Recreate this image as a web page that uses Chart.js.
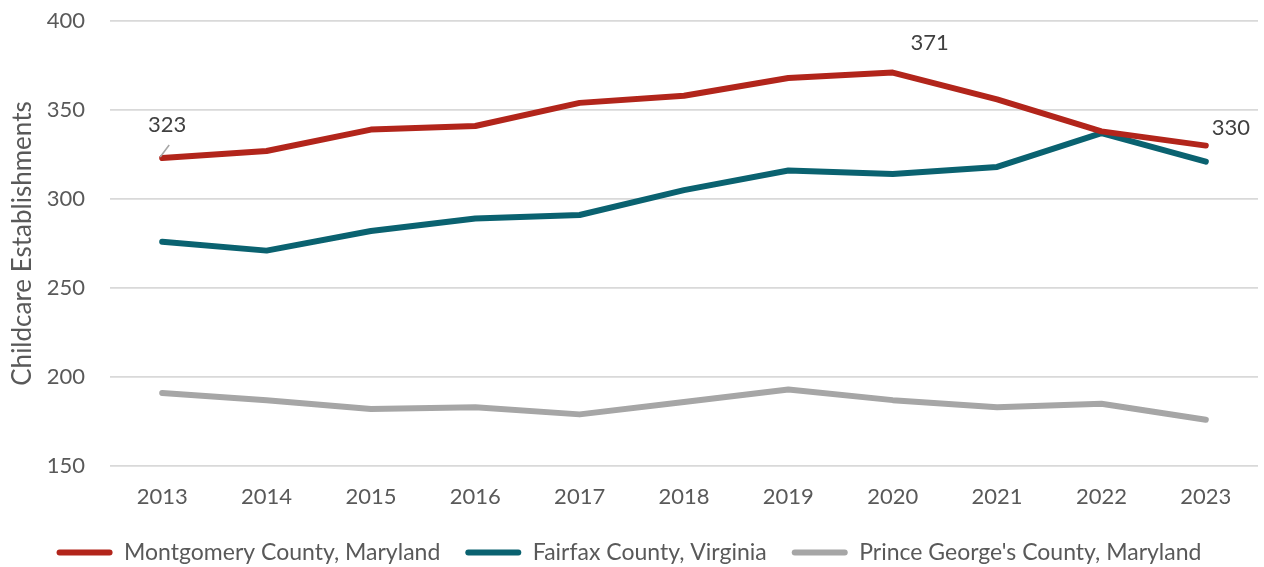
<!DOCTYPE html>
<html lang="en">
<head>
    <meta charset="UTF-8">
    <title>Childcare Establishments</title>
    <script src="https://cdn.jsdelivr.net/npm/chart.js"></script>
    <style>
        html, body {
            margin: 0;
            padding: 0;
            background: #ffffff;
        }

        .wrap {
            width: 1264px;
            height: 567px;
        }
    </style>
</head>
<body>
    <div class="wrap">
        <canvas id="chart" width="1264" height="567"></canvas>
    </div>

    <script>
        // Data
        const years = ['2013', '2014', '2015', '2016', '2017', '2018', '2019', '2020', '2021', '2022', '2023'];
        const montgomery = [323, 327, 339, 341, 354, 358, 368, 371, 356, 338, 330];
        const fairfax = [276, 271, 282, 289, 291, 305, 316, 314, 318, 337, 321];
        const princeGeorges = [191, 187, 182, 183, 179, 186, 193, 187, 183, 185, 176];
        const yTicks = [150, 200, 250, 300, 350, 400];

        const textColor = '#595959';
        const fontFamily = 'Lato, "Open Sans", sans-serif';

        // Value labels shown on the red line (index -> offsets)
        const redLabels = [
            { index: 0, dx: 5, dy: -33, leader: true },
            { index: 7, dx: 37, dy: -30, leader: false },
            { index: 10, dx: 25, dy: -18, leader: false }
        ];

        const valueLabels = {
            id: 'valueLabels',
            afterDatasetsDraw(chart) {
                const ctx = chart.ctx;
                const meta = chart.getDatasetMeta(0);
                ctx.save();
                ctx.font = '22px ' + fontFamily;
                ctx.fillStyle = '#404040';
                ctx.textAlign = 'center';
                ctx.textBaseline = 'middle';
                redLabels.forEach(l => {
                    const pt = meta.data[l.index];
                    ctx.fillText(String(montgomery[l.index]), pt.x + l.dx, pt.y + l.dy);
                    if (l.leader) {
                        ctx.strokeStyle = '#a6a6a6';
                        ctx.lineWidth = 1.5;
                        ctx.beginPath();
                        ctx.moveTo(pt.x - 2, pt.y - 1);
                        ctx.lineTo(pt.x + 7, pt.y - 13);
                        ctx.stroke();
                    }
                });
                ctx.restore();
            }
        };

        function lineSet(label, values, color) {
            return {
                label: label,
                data: values,
                borderColor: color,
                backgroundColor: color,
                borderWidth: 6,
                pointRadius: 0,
                borderCapStyle: 'round',
                borderJoinStyle: 'round',
                tension: 0,
                fill: false
            };
        }

        const ctx = document.getElementById('chart').getContext('2d');
        new Chart(ctx, {
            type: 'line',
            data: {
                labels: years,
                datasets: [
                    lineSet('Montgomery County, Maryland', montgomery, '#b2251b'),
                    lineSet('Fairfax County, Virginia', fairfax, '#0a6270'),
                    lineSet("Prince George's County, Maryland", princeGeorges, '#a6a6a6')
                ]
            },
            options: {
                responsive: false,
                animation: false,
                layout: {
                    padding: { left: 0, right: 6, top: 21, bottom: -7 }
                },
                scales: {
                    x: {
                        offset: true,
                        grid: { display: false },
                        border: { display: false },
                        afterFit(scale) {
                            scale.height = 50;
                            scale.paddingLeft = 0;
                            scale.paddingRight = 0;
                        },
                        ticks: {
                            color: textColor,
                            font: { family: fontFamily, size: 22 },
                            padding: 10,
                            maxRotation: 0
                        }
                    },
                    y: {
                        min: 150,
                        max: 400,
                        afterBuildTicks(scale) {
                            scale.ticks = yTicks.map(v => ({ value: v }));
                        },
                        afterFit(scale) {
                            scale.width = 110;
                            scale.paddingTop = 0;
                            scale.paddingBottom = 0;
                        },
                        grid: { color: '#d9d9d9', lineWidth: 1.8, drawTicks: false },
                        border: { display: false },
                        ticks: {
                            color: textColor,
                            font: { family: fontFamily, size: 22 },
                            padding: 25
                        },
                        title: {
                            display: true,
                            text: 'Childcare Establishments',
                            color: textColor,
                            font: { family: fontFamily, size: 26 },
                            padding: { top: 7, bottom: 0 }
                        }
                    }
                },
                plugins: {
                    legend: {
                        position: 'bottom',
                        labels: {
                            color: textColor,
                            font: { family: fontFamily, size: 23 },
                            boxWidth: 56,
                            boxHeight: 6,
                            padding: 25,
                            generateLabels(chart) {
                                return chart.data.datasets.map((ds, i) => ({
                                    text: ds.label,
                                    fillStyle: ds.borderColor,
                                    strokeStyle: ds.borderColor,
                                    lineWidth: 0,
                                    borderRadius: 3,
                                    fontColor: textColor,
                                    datasetIndex: i,
                                    hidden: false
                                }));
                            }
                        }
                    },
                    tooltip: { enabled: false }
                }
            },
            plugins: [valueLabels]
        });
    </script>
</body>
</html>
